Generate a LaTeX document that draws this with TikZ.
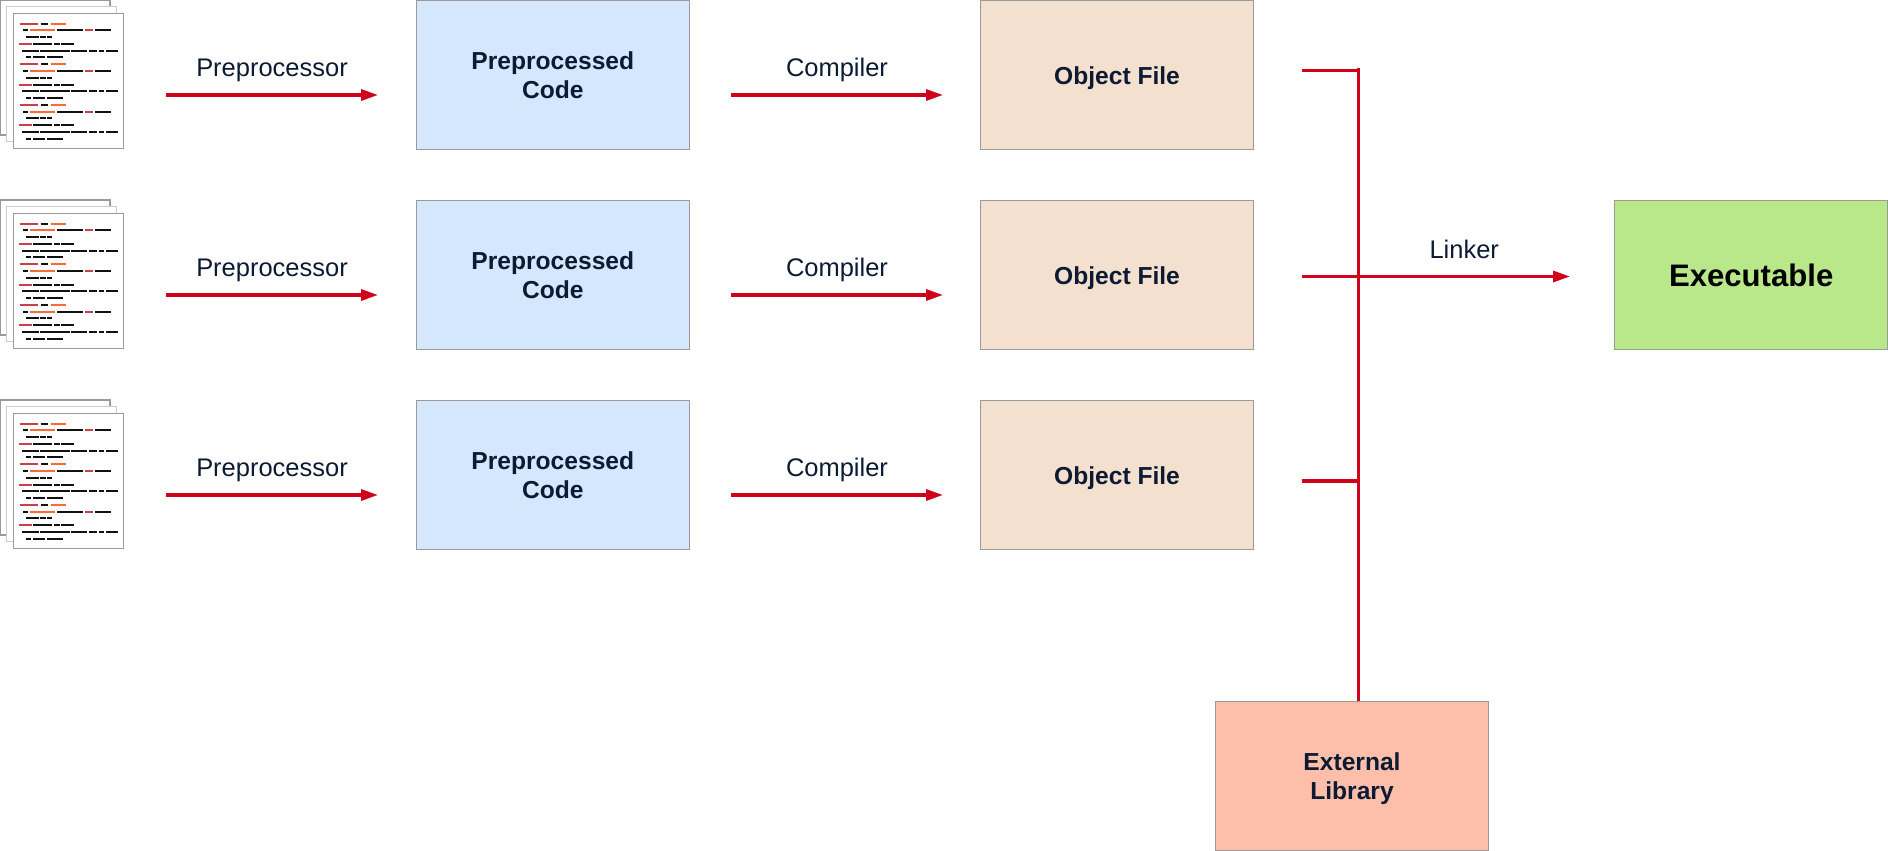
\documentclass[tikz,border=0pt]{standalone}
\usepackage{fontspec}
\setmainfont{Liberation Sans}
\usetikzlibrary{arrows.meta}
\definecolor{flowred}{HTML}{D0021B}
\definecolor{inktext}{HTML}{0C1B33}
\definecolor{boxline}{HTML}{9A9A9A}
\definecolor{codered}{HTML}{C8404A}
\definecolor{codeorange}{HTML}{F76B36}
\definecolor{codeblack}{HTML}{111111}
\tikzset{
  boxbase/.style={draw=boxline, line width=0.7pt, minimum width=5.46cm, minimum height=2.98cm, align=center, text=inktext, font=\fontsize{14}{16.2}\selectfont\bfseries,
    execute at begin node=\rule{0pt}{14.4pt}, execute at end node=\rule[-3.1pt]{0pt}{0pt}},
  twolines/.style={execute at begin node=\rule{0pt}{30pt}},
  precode/.style={boxbase, twolines, fill={rgb,255:red,212;green,231;blue,253}},
  objfile/.style={boxbase, fill={rgb,255:red,244;green,224;blue,207}},
  extlib/.style={boxbase, twolines, fill={rgb,255:red,253;green,190;blue,170}},
  exefile/.style={boxbase, fill={rgb,255:red,185;green,232;blue,138}, text=black, font=\fontsize{17.7}{20}\selectfont\bfseries,
    execute at begin node=\rule{0pt}{16.2pt}},
  flow/.style={flowred, line width=1.8pt},
  flowarrow/.style={flow, -{Triangle[length=0.34cm,width=0.22cm]}},
  flowlabel/.style={above=0.33cm, inner sep=0pt, text depth=0pt, text=inktext, font=\fontsize{14.5}{17}\selectfont},
  pics/docsheet/.style={code={
    \begin{scope}[x=0.00667cm,y=-0.00667cm]
    \draw[draw=#1, line width=0.8pt, fill=white] (0,0) rectangle (330,405);
    \foreach \dy in {0,122,244}
      \foreach \c/\h/\a/\b in {codered/31/20/73, codeblack/31/82/105, codeorange/31/113/158,
        codeblack/51/29/43, codeorange/51/50/125, codeblack/51/132/209, codered/51/215/239, codeblack/51/246/293,
        codeblack/71/39/76, codeblack/71/80/97, codeblack/71/101/117,
        codered/92/18/55, codeblack/92/60/117, codeblack/92/123/139, codeblack/92/143/181,
        codeblack/112/27/76, codeblack/112/80/169, codeblack/112/174/221, codeblack/112/226/251, codeblack/112/257/272, codeblack/112/278/314,
        codeblack/132/39/54, codeblack/132/60/96, codeblack/132/101/148}
        \draw[\c, line width=1pt] (\a,\h+\dy) -- (\b,\h+\dy);
    \end{scope}
  }},
  pics/docstack/.style={code={
    \pic at (0,0) {docsheet=boxline};
    \pic at (6.67,6.67) {docsheet=boxline!50};
    \pic at (13.33,13.33) {docsheet=boxline};
  }},
}
\begin{document}
\begin{tikzpicture}[x=0.02cm, y=-0.02cm, node distance=4cm]
\useasboundingbox (0,0) rectangle (1888,851);

\pic at (0,0) {docstack};
\pic at (0,200) {docstack};
\pic at (0,400) {docstack};

\node (pre1) [precode] at (552.8,74.8) {Preprocessed\\Code};
\node (pre2) [precode, below of=pre1] {Preprocessed\\Code};
\node (pre3) [precode, below of=pre2] {Preprocessed\\Code};

\node (obj1) [objfile] at (1117,74.8) {Object File};
\node (obj2) [objfile, below of=obj1] {Object File};
\node (obj3) [objfile, below of=obj2] {Object File};

\node (exe) [exefile] at (1751.2,274.8) {Executable};
\node (lib) [extlib] at (1352,775.8) {External\\Library};

% preprocessor arrows
\coordinate (src1) at (166,95);
\coordinate (src2) at (166,295);
\coordinate (src3) at (166,495);
\coordinate (in1) at (378,95);
\coordinate (in2) at (378,295);
\coordinate (in3) at (378,495);
\draw[flowarrow] (src1) -- (in1) node[midway, flowlabel]{Preprocessor};
\draw[flowarrow] (src2) -- (in2) node[midway, flowlabel]{Preprocessor};
\draw[flowarrow] (src3) -- (in3) node[midway, flowlabel]{Preprocessor};

% compiler arrows
\coordinate (out1) at (731,95);
\coordinate (out2) at (731,295);
\coordinate (out3) at (731,495);
\coordinate (tgt1) at (943,95);
\coordinate (tgt2) at (943,295);
\coordinate (tgt3) at (943,495);
\draw[flowarrow] (out1) -- (tgt1) node[midway, flowlabel]{Compiler};
\draw[flowarrow] (out2) -- (tgt2) node[midway, flowlabel]{Compiler};
\draw[flowarrow] (out3) -- (tgt3) node[midway, flowlabel]{Compiler};

% linker bus
\coordinate (bustop) at (1358.5,68);
\coordinate (stub1) at (1302,70.3);
\coordinate (stub2) at (1302,276.5);
\coordinate (stub3) at (1302,481);
\coordinate (join1) at (1358.5,70.3);
\coordinate (join2) at (1358.5,276.5);
\coordinate (join3) at (1358.5,481);
\coordinate (exein) at (1570,276.5);
\draw[flow] (bustop) -- (lib.north -| bustop);
\draw[flow] (stub1) -- (join1);
\draw[flow] (stub2) -- (join2);
\draw[flow] (stub3) -- (join3);
\draw[flowarrow] (join2) -- (exein) node[midway, flowlabel]{Linker};
\end{tikzpicture}
\end{document}
